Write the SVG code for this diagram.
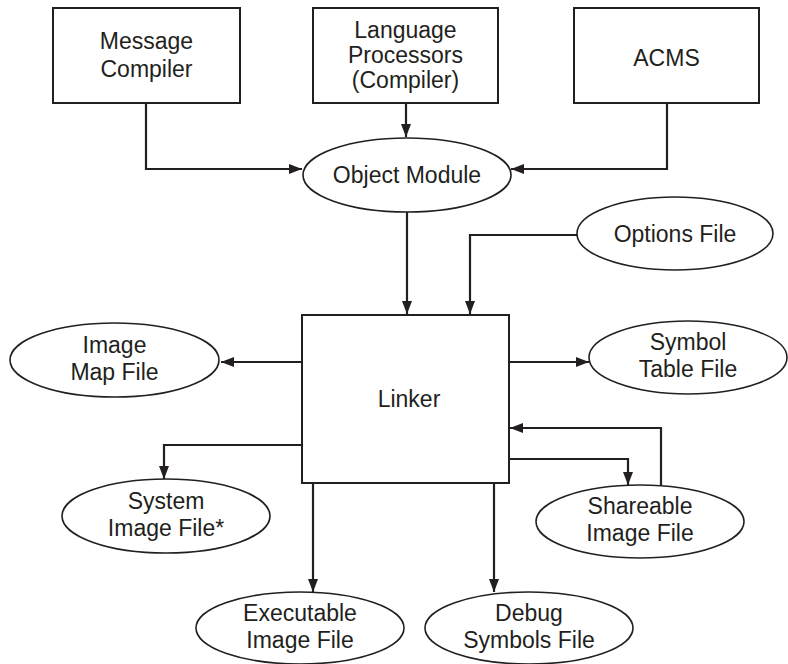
<svg xmlns="http://www.w3.org/2000/svg" width="788" height="664" viewBox="0 0 788 664">
<defs>
<style>
.box{fill:#fff;stroke:#231f20;stroke-width:2}
.ell{fill:#fff;stroke:#231f20;stroke-width:1.6}
.t{font-family:"Liberation Sans",Arial,sans-serif;font-size:23px;fill:#231f20;text-anchor:middle}
.c{fill:none;stroke:#231f20;stroke-width:2.2;marker-end:url(#ah)}
</style>
<marker id="ah" markerUnits="userSpaceOnUse" markerWidth="14" markerHeight="10" refX="13" refY="5" orient="auto">
<path d="M0,0 L13,5 L0,10 Z" fill="#231f20"/>
</marker>
</defs>
<rect width="788" height="664" fill="#fff"/>
<g id="connectors">
<path class="c" d="M146,103 V169 H302"/>
<path class="c" d="M406,103 V137"/>
<path class="c" d="M667,103 V169 H511"/>
<path class="c" d="M407,212 V314"/>
<path class="c" d="M577,235 H470 V314"/>
<path class="c" d="M302,362 H221"/>
<path class="c" d="M509,362 H589"/>
<path class="c" d="M302,445 H164 V479"/>
<path class="c" d="M509,459 H628 V485"/>
<path class="c" d="M661,486 V428 H510"/>
<path class="c" d="M313,483 V592"/>
<path class="c" d="M494,483 V592"/>
</g>
<g id="message-compiler">
<rect class="box" x="53" y="8" width="187" height="95"/>
<text class="t" x="146.5" y="49">Message</text>
<text class="t" x="146.5" y="77">Compiler</text>
</g>
<g id="language-processors">
<rect class="box" x="313" y="8" width="185" height="95"/>
<text class="t" x="405.5" y="38">Language</text>
<text class="t" x="405.5" y="63">Processors</text>
<text class="t" x="405.5" y="88">(Compiler)</text>
</g>
<g id="acms">
<rect class="box" x="574" y="8" width="185" height="95"/>
<text class="t" x="666.5" y="66">ACMS</text>
</g>
<g id="object-module">
<ellipse class="ell" cx="407" cy="175" rx="104" ry="37"/>
<text class="t" x="407" y="183">Object Module</text>
</g>
<g id="options-file">
<ellipse class="ell" cx="675" cy="233.5" rx="98" ry="36.5"/>
<text class="t" x="675" y="242">Options File</text>
</g>
<g id="linker">
<rect class="box" x="302" y="315" width="207" height="168"/>
<text class="t" x="409" y="407">Linker</text>
</g>
<g id="image-map-file">
<ellipse class="ell" cx="114.5" cy="360" rx="104.5" ry="37"/>
<text class="t" x="114.5" y="353">Image</text>
<text class="t" x="114.5" y="380">Map File</text>
</g>
<g id="symbol-table-file">
<ellipse class="ell" cx="688" cy="357.5" rx="99" ry="36.5"/>
<text class="t" x="688" y="350">Symbol</text>
<text class="t" x="688" y="377">Table File</text>
</g>
<g id="system-image-file">
<ellipse class="ell" cx="166" cy="516" rx="104" ry="37"/>
<text class="t" x="166" y="509">System</text>
<text class="t" x="166" y="536">Image File*</text>
</g>
<g id="shareable-image-file">
<ellipse class="ell" cx="640" cy="521.5" rx="104" ry="36.5"/>
<text class="t" x="640" y="514">Shareable</text>
<text class="t" x="640" y="541">Image File</text>
</g>
<g id="executable-image-file">
<ellipse class="ell" cx="300" cy="628" rx="104" ry="36"/>
<text class="t" x="300" y="621">Executable</text>
<text class="t" x="300" y="648">Image File</text>
</g>
<g id="debug-symbols-file">
<ellipse class="ell" cx="529" cy="628" rx="104" ry="36"/>
<text class="t" x="529" y="621">Debug</text>
<text class="t" x="529" y="648">Symbols File</text>
</g>
</svg>
